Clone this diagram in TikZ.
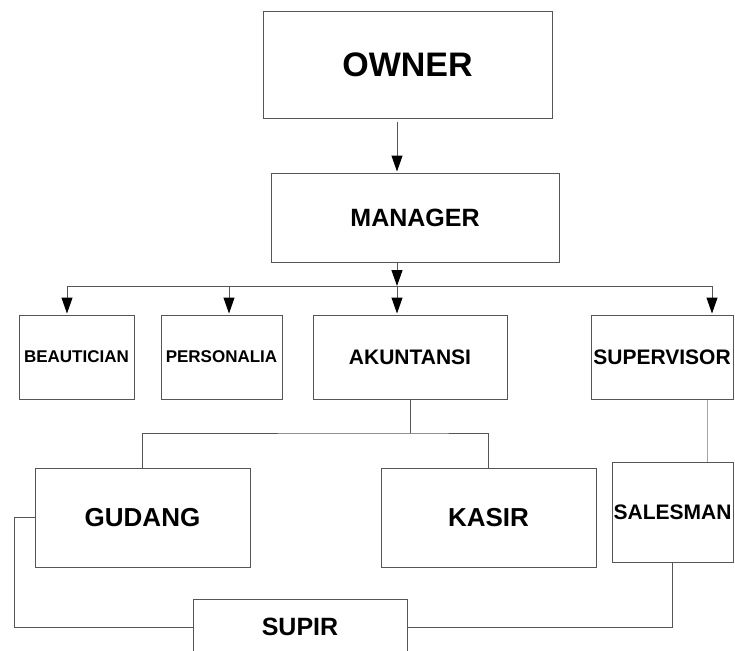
\documentclass[tikz,border=0pt]{standalone}
\usepackage{fontspec}
\setmainfont{Liberation Sans}
\usepackage{xcolor}
\usepackage{tikz}
\usetikzlibrary{arrows.meta}

\definecolor{edgegray}{RGB}{85,85,85}

\begin{document}
\begin{tikzpicture}[x=1pt,y=-1pt,
  box/.style={draw=edgegray,line width=1pt,inner sep=0pt,font=\bfseries,text=black},
  link/.style={draw=edgegray,line width=1pt},
  arr/.style={link,-{Triangle[length=16pt,width=11pt,color=black,fill=black]},shorten >=1pt}]
\useasboundingbox (0,0) rectangle (735,650);
\clip (0,0) rectangle (735,650);

\node[box,minimum width=289pt,minimum height=106pt,font=\fontsize{34}{38}\bfseries] (owner) at (407.5,65) {\raisebox{-5pt}{OWNER}};
\node[box,minimum width=288pt,minimum height=89pt,font=\fontsize{25}{28}\bfseries] (manager) at (415,217.5) {MANAGER};

\node[box,minimum width=115pt,minimum height=84pt,font=\fontsize{17}{20}\bfseries] (beautician) at (76.5,357) {BEAUTICIAN};
\node[box,minimum width=121pt,minimum height=84pt,font=\fontsize{17}{20}\bfseries] (personalia) at (221.5,357) {PERSONALIA};
\node[box,minimum width=194pt,minimum height=84pt,font=\fontsize{21}{24}\bfseries] (akuntansi) at (410,357) {AKUNTANSI};
\node[box,minimum width=142pt,minimum height=84pt,font=\fontsize{21}{24}\bfseries] (supervisor) at (662,357) {SUPERVISOR};

\node[box,minimum width=215pt,minimum height=99pt,font=\fontsize{26}{30}\bfseries] (gudang) at (142.5,517.5) {GUDANG};
\node[box,minimum width=215pt,minimum height=99pt,font=\fontsize{26}{30}\bfseries] (kasir) at (488.5,517.5) {KASIR};
\node[box,minimum width=121pt,minimum height=100pt,font=\fontsize{21}{24}\bfseries] (salesman) at (672.5,512) {SALESMAN};
\node[box,minimum width=214pt,minimum height=56pt,font=\fontsize{25}{28}\bfseries] (supir) at (300,627) {SUPIR};

\coordinate (trunk) at (397,286);
\coordinate (b1) at (67,286);
\coordinate (b2) at (229,286);
\coordinate (b4) at (712,286);
\coordinate (split) at (410,433);
\coordinate (sv) at (707,430);

\draw[arr,shorten <=3pt] (owner.south -| trunk) -- (manager.north -| trunk);
\draw[arr,shorten >=0pt] (manager.south -| trunk) -- (trunk);
\draw[link] (b1) -- (b4);
\draw[arr] (b1) -- (b1 |- beautician.north);
\draw[arr] (b2) -- (b2 |- personalia.north);
\draw[arr] (trunk) -- (trunk |- akuntansi.north);
\draw[arr] (b4) -- (b4 |- supervisor.north);

\draw[link] (akuntansi.south) -- (split);
\draw[link] (gudang.north) |- (split) -| (kasir.north);
\draw[link,draw=gray!70] (supervisor.south -| sv) -- (salesman.north -| sv);
\draw[link] (gudang.west) -- ++(-20,0) |- (supir.west);
\draw[link] (salesman.south) |- (supir.east);
\end{tikzpicture}
\end{document}
